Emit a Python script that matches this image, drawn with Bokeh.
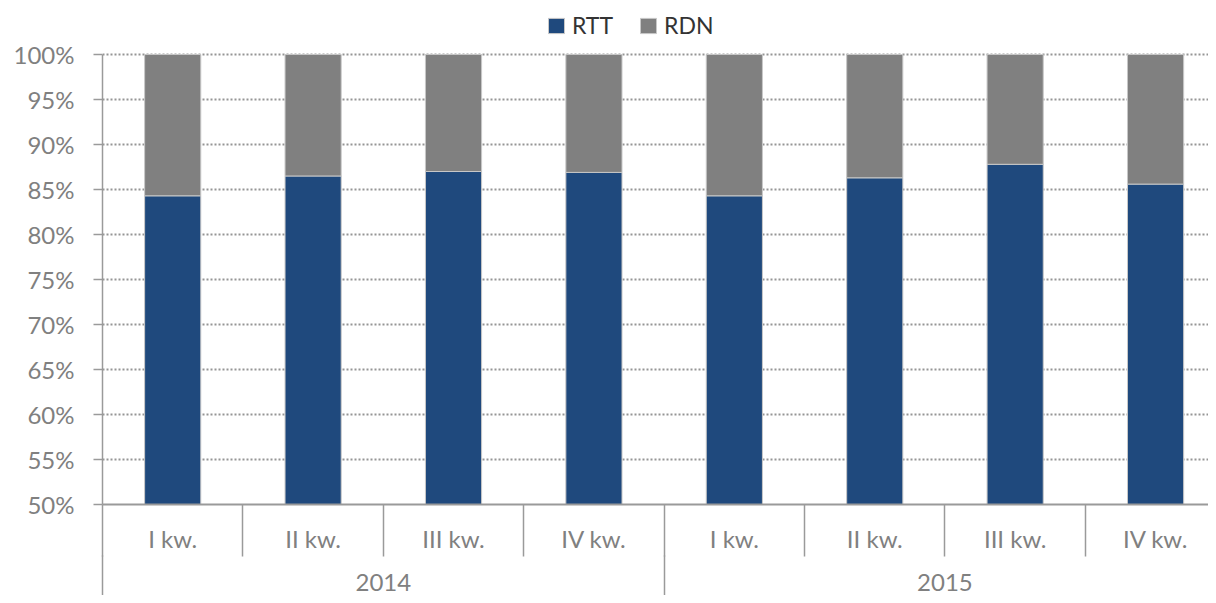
from bokeh.plotting import figure
from bokeh.models import (Range1d, FixedTicker, LinearAxis, Legend, LegendItem,
                          ColumnDataSource)
from bokeh.embed import file_html
from bokeh.resources import INLINE

# ---- data ----
years = ["2014", "2015"]
quarters = ["I kw.", "II kw.", "III kw.", "IV kw."]
rtt = [84.3, 86.5, 87.0, 86.9, 84.3, 86.3, 87.8, 85.6]
rdn = [15.7, 13.5, 13.0, 13.1, 15.7, 13.7, 12.2, 14.4]
series_names = ["RTT", "RDN"]
y_ticks = [50, 55, 60, 65, 70, 75, 80, 85, 90, 95, 100]
y_tick_labels = ["50%", "55%", "60%", "65%", "70%", "75%", "80%", "85%", "90%", "95%", "100%"]

# ---- derived layout of categories ----
cat_labels = [q for y in years for q in quarters]
n = len(cat_labels)
x_centers = [i + 0.5 for i in range(n)]
x_bounds = list(range(n + 1))
nq = len(quarters)
year_centers = [k * nq + nq / 2 for k in range(len(years))]
year_bounds = [k * nq for k in range(len(years) + 1)]

src = ColumnDataSource(dict(x=x_centers, rtt=rtt, rdn=rdn))

FONT = "Lato"
AX_COLOR = "#9a9a9a"
LABEL_COLOR = "#808080"

# frame extends above 100% to host the legend; the y axis line is bounded
p = figure(width=1208, height=595,
           x_range=Range1d(0, 7.877), y_range=Range1d(50, 105.333),
           output_backend="svg", toolbar_location=None,
           x_axis_location=None,
           min_border_left=102, min_border_top=6, min_border_bottom=91,
           min_border_right=0)
p.outline_line_color = None
p.xgrid.visible = False

# y axis
ya = p.yaxis[0]
ya.ticker = FixedTicker(ticks=y_ticks)
ya.bounds = (y_ticks[0], y_ticks[-1])
ya.major_label_overrides = dict(zip(y_ticks, y_tick_labels))
ya.major_tick_out = 9
ya.major_tick_in = 0
ya.minor_tick_out = 0
ya.minor_tick_in = 0
ya.axis_line_color = AX_COLOR
ya.axis_line_width = 1.5
ya.major_tick_line_color = AX_COLOR
ya.major_tick_line_width = 1.5
ya.major_label_standoff = 19
ya.major_label_text_font = FONT
ya.major_label_text_font_size = "24px"
ya.major_label_text_color = LABEL_COLOR

p.ygrid.ticker = FixedTicker(ticks=y_ticks)
p.ygrid.grid_line_color = "#959595"
p.ygrid.grid_line_dash = "2 2"
p.ygrid.grid_line_width = 2

# bars
rs = p.vbar_stack(["rtt", "rdn"], x="x", width=0.4, source=src,
                  fill_color=["#1f497d", "#808080"], line_color="#c8c8c8",
                  line_width=1)

# quarter axis
ax1 = LinearAxis(ticker=FixedTicker(ticks=x_centers, minor_ticks=x_bounds),
                 major_label_overrides=dict(zip(x_centers, cat_labels)),
                 major_tick_out=0, major_tick_in=0,
                 minor_tick_out=52, minor_tick_in=0,
                 minor_tick_line_color=AX_COLOR, minor_tick_line_width=1.5,
                 axis_line_color=AX_COLOR, axis_line_width=2,
                 major_label_standoff=-33,
                 major_label_text_font=FONT, major_label_text_font_size="24px",
                 major_label_text_color=LABEL_COLOR)
p.add_layout(ax1, "below")

# year axis
ax2 = LinearAxis(ticker=FixedTicker(ticks=year_centers, minor_ticks=year_bounds),
                 major_label_overrides=dict(zip(year_centers, years)),
                 major_tick_out=0, major_tick_in=0,
                 minor_tick_out=50, minor_tick_in=0,
                 minor_tick_line_color=AX_COLOR, minor_tick_line_width=1.5,
                 axis_line_color=None,
                 major_label_standoff=-32,
                 major_label_text_line_height=0.7,
                 major_label_text_font=FONT, major_label_text_font_size="24px",
                 major_label_text_color=LABEL_COLOR)
p.add_layout(ax2, "below")

# legend inside the extended top of the frame
items = [LegendItem(label=name, renderers=[r]) for name, r in zip(series_names, rs)]
leg = Legend(items=items, orientation="horizontal", location=(444, 465),
             border_line_color=None, background_fill_alpha=0,
             padding=0, margin=0, spacing=25, label_standoff=6,
             glyph_width=20, glyph_height=19,
             label_text_font=FONT, label_text_font_size="23px",
             label_text_color="#333333")
p.add_layout(leg, "center")

open("out.html", "w").write(file_html(p, INLINE))
